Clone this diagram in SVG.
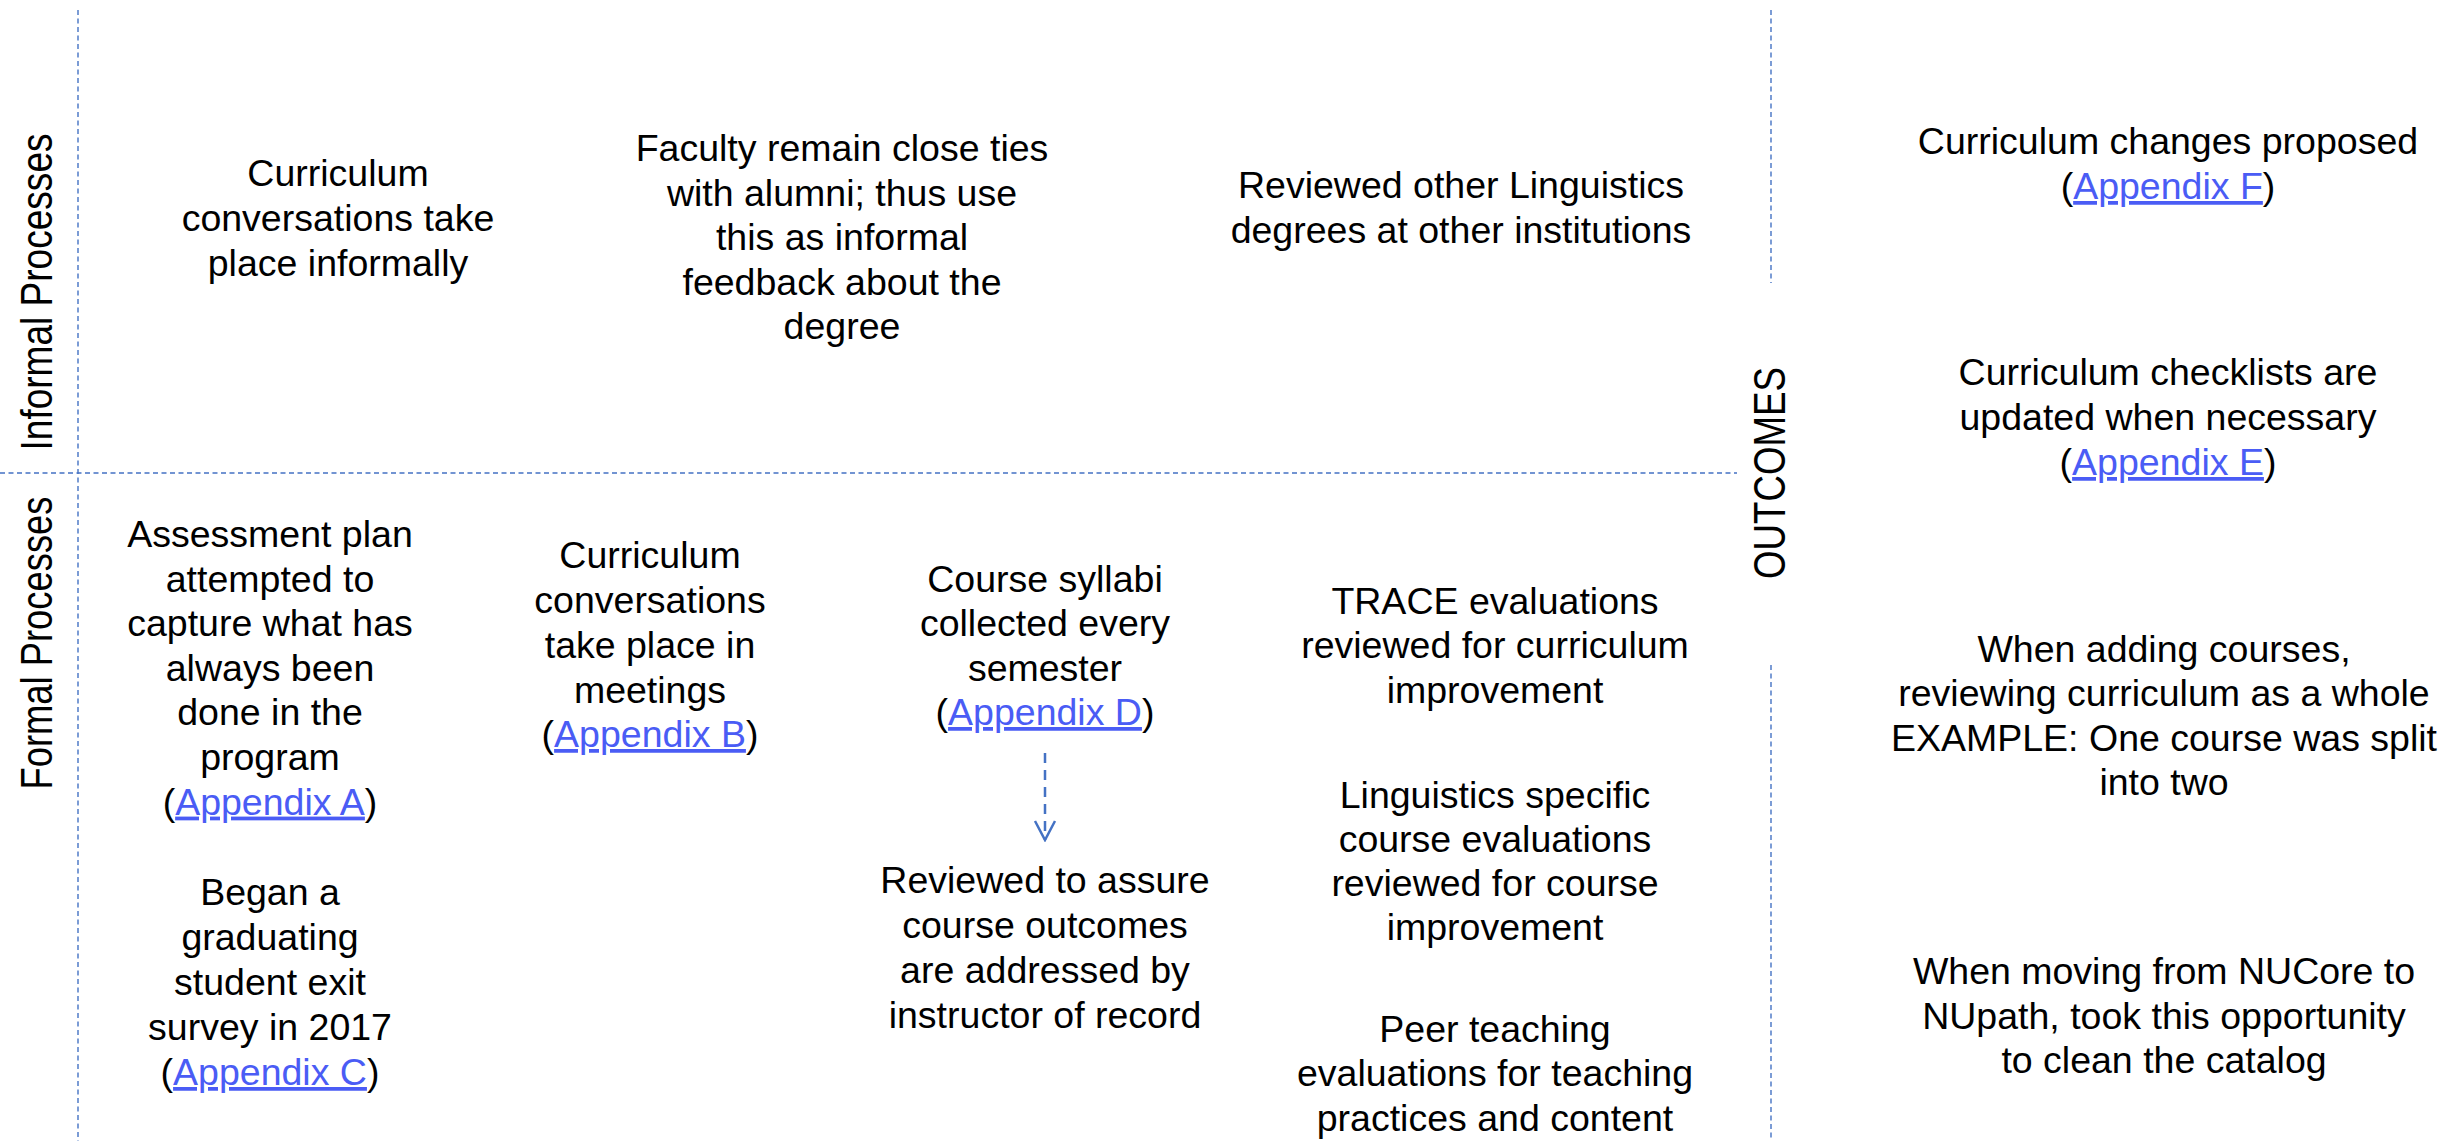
<svg xmlns="http://www.w3.org/2000/svg" width="2442" height="1141" viewBox="0 0 2442 1141">
<style>
.t{font-family:"Liberation Sans",Arial,sans-serif;font-size:37.5px;fill:#000;text-anchor:middle}
.lbl{font-family:"Liberation Sans",Arial,sans-serif;font-size:45px;fill:#000;text-anchor:middle}
.lk{fill:#4a5cf5;text-decoration:underline}
.grid{stroke:#4472C4;stroke-width:1.4;stroke-dasharray:5 3.5;fill:none}
.conn{stroke:#4472C4;stroke-width:2.5;stroke-dasharray:10 7;fill:none}
</style>
<defs>
<marker id="vhead" viewBox="0 0 22 24" refX="20" refY="12" markerWidth="22" markerHeight="24" markerUnits="userSpaceOnUse" orient="auto">
<path d="M1,2 L20,12 L1,22" fill="none" stroke="#4472C4" stroke-width="2.5"/>
</marker>
</defs>
<rect width="2442" height="1141" fill="#fff"/>
<g id="grid">
<line class="grid" x1="78" y1="10" x2="78" y2="1141"/>
<line class="grid" x1="0" y1="473" x2="1737" y2="473"/>
<line class="grid" x1="1771" y1="10" x2="1771" y2="283"/>
<line class="grid" x1="1771" y1="665" x2="1771" y2="1141"/>
</g>
<g id="labels">
<text class="lbl" transform="translate(52,292) rotate(-90)" textLength="317" lengthAdjust="spacingAndGlyphs">Informal Processes</text>
<text class="lbl" transform="translate(52,643) rotate(-90)" textLength="293" lengthAdjust="spacingAndGlyphs">Formal Processes</text>
<text class="lbl" transform="translate(1785,473) rotate(-90)" textLength="212" lengthAdjust="spacingAndGlyphs">OUTCOMES</text>
</g>
<g id="informal-conversations">
<text class="t"><tspan x="338" y="186">Curriculum</tspan><tspan x="338" y="231">conversations take</tspan><tspan x="338" y="276">place informally</tspan></text>
</g>
<g id="alumni-feedback">
<text class="t"><tspan x="842" y="161">Faculty remain close ties</tspan><tspan x="842" y="205.5">with alumni; thus use</tspan><tspan x="842" y="250">this as informal</tspan><tspan x="842" y="294.5">feedback about the</tspan><tspan x="842" y="339">degree</tspan></text>
</g>
<g id="other-degrees">
<text class="t"><tspan x="1461" y="198">Reviewed other Linguistics</tspan><tspan x="1461" y="243">degrees at other institutions</tspan></text>
</g>
<g id="assessment-plan">
<text class="t"><tspan x="270" y="547">Assessment plan</tspan><tspan x="270" y="591.6">attempted to</tspan><tspan x="270" y="636.2">capture what has</tspan><tspan x="270" y="680.8">always been</tspan><tspan x="270" y="725.4">done in the</tspan><tspan x="270" y="770">program</tspan><tspan x="270" y="814.6">(<tspan class="lk">Appendix A</tspan>)</tspan></text>
</g>
<g id="exit-survey">
<text class="t"><tspan x="270" y="905">Began a</tspan><tspan x="270" y="950">graduating</tspan><tspan x="270" y="995">student exit</tspan><tspan x="270" y="1040">survey in 2017</tspan><tspan x="270" y="1085">(<tspan class="lk">Appendix C</tspan>)</tspan></text>
</g>
<g id="meetings">
<text class="t"><tspan x="650" y="568">Curriculum</tspan><tspan x="650" y="613">conversations</tspan><tspan x="650" y="658">take place in</tspan><tspan x="650" y="703">meetings</tspan><tspan x="650" y="747">(<tspan class="lk">Appendix B</tspan>)</tspan></text>
</g>
<g id="syllabi">
<text class="t"><tspan x="1045" y="592">Course syllabi</tspan><tspan x="1045" y="636">collected every</tspan><tspan x="1045" y="681">semester</tspan><tspan x="1045" y="725">(<tspan class="lk">Appendix D</tspan>)</tspan></text>
</g>
<g id="reviewed-outcomes">
<text class="t"><tspan x="1045" y="893">Reviewed to assure</tspan><tspan x="1045" y="938">course outcomes</tspan><tspan x="1045" y="983">are addressed by</tspan><tspan x="1045" y="1028">instructor of record</tspan></text>
</g>
<g id="trace">
<text class="t"><tspan x="1495" y="614">TRACE evaluations</tspan><tspan x="1495" y="658">reviewed for curriculum</tspan><tspan x="1495" y="703">improvement</tspan></text>
</g>
<g id="ling-evals">
<text class="t"><tspan x="1495" y="808">Linguistics specific</tspan><tspan x="1495" y="852">course evaluations</tspan><tspan x="1495" y="896">reviewed for course</tspan><tspan x="1495" y="940">improvement</tspan></text>
</g>
<g id="peer-teaching">
<text class="t"><tspan x="1495" y="1042">Peer teaching</tspan><tspan x="1495" y="1086">evaluations for teaching</tspan><tspan x="1495" y="1131">practices and content</tspan></text>
</g>
<g id="changes-proposed">
<text class="t"><tspan x="2168" y="154">Curriculum changes proposed</tspan><tspan x="2168" y="199">(<tspan class="lk">Appendix F</tspan>)</tspan></text>
</g>
<g id="checklists">
<text class="t"><tspan x="2168" y="385">Curriculum checklists are</tspan><tspan x="2168" y="430">updated when necessary</tspan><tspan x="2168" y="475">(<tspan class="lk">Appendix E</tspan>)</tspan></text>
</g>
<g id="adding-courses">
<text class="t"><tspan x="2164" y="662">When adding courses,</tspan><tspan x="2164" y="706">reviewing curriculum as a whole</tspan><tspan x="2164" y="751">EXAMPLE: One course was split</tspan><tspan x="2164" y="795">into two</tspan></text>
</g>
<g id="nupath">
<text class="t"><tspan x="2164" y="984">When moving from NUCore to</tspan><tspan x="2164" y="1029">NUpath, took this opportunity</tspan><tspan x="2164" y="1073">to clean the catalog</tspan></text>
</g>
<g id="connectors">
<path class="conn" d="M1045,753 L1045,840" marker-end="url(#vhead)"/>
</g>
</svg>
